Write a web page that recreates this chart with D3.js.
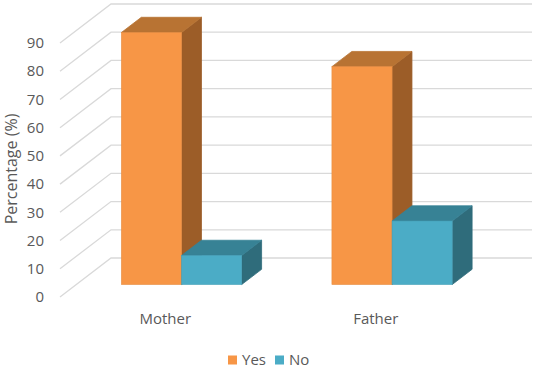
<!DOCTYPE html>
<html>
<head>
<meta charset="utf-8">
<script src="https://cdn.jsdelivr.net/npm/d3@7/dist/d3.min.js"></script>
<style>
  html, body { margin: 0; padding: 0; background: #fff; }
  svg { display: block; font-family: "Open Sans", sans-serif; }
</style>
</head>
<body>
<svg id="chart" width="536" height="368"></svg>
<script>
const categories = ["Mother", "Father"];
const seriesNames = ["Yes", "No"];
const yesValues = [89.3, 77.2];
const noValues = [10.3, 22.5];
const yTicks = [0, 10, 20, 30, 40, 50, 60, 70, 80, 90];
const yTitle = "Percentage (%)";

const colors = {
  Yes: { front: "#F79646", top: "#B87333", side: "#9C5D28" },
  No:  { front: "#4BACC6", top: "#378295", side: "#2F6C7B" }
};

const svg = d3.select("#chart");

// oblique projection of floor depth
const depthDX = 51, depthDY = -39;
const barD0 = 0.32, barD1 = 0.71;

const y = d3.scaleLinear().domain([0, 90]).range([297, 43]);
const x0 = d3.scaleBand().domain(categories).range([60, 481]).padding(0);
const x1 = d3.scaleBand().domain(seriesNames).range([0, x0.bandwidth()])
  .paddingInner(0).paddingOuter(0.75);

const gridColor = "#D9D9D9";
const textColor = "#595959";

// gridlines: floor diagonal + back wall horizontal
const grid = svg.append("g");
yTicks.forEach(t => {
  const fy = y(t);
  const bx = 60 + depthDX, by = fy + depthDY;
  grid.append("path")
    .attr("d", `M60,${fy}L${bx},${by}L${481 + depthDX},${by}`)
    .attr("fill", "none").attr("stroke", gridColor).attr("stroke-width", 1.3);
});

// y tick labels
svg.append("g").selectAll("text").data(yTicks).join("text")
  .attr("x", 44).attr("y", d => y(d)).attr("dy", "0.35em")
  .attr("text-anchor", "end").attr("fill", textColor)
  .attr("font-size", 15).text(d => d);

// y axis title
svg.append("text")
  .attr("transform", `translate(17,${(y(0)+y(90))/2 - 1}) rotate(-90)`)
  .attr("text-anchor", "middle").attr("fill", textColor)
  .attr("font-size", 16).text(yTitle);

// bars
const data = [];
categories.forEach((c, i) => {
  data.push({ cat: c, s: "Yes", v: yesValues[i] });
  data.push({ cat: c, s: "No", v: noValues[i] });
});

const bars = svg.append("g");
data.forEach(d => {
  const xl = x0(d.cat) + x1(d.s) + barD0 * depthDX;
  const xr = xl + x1.bandwidth();
  const yb = y(0) + barD0 * depthDY;
  const yt = y(d.v) + barD0 * depthDY;
  const ddx = (barD1 - barD0) * depthDX, ddy = (barD1 - barD0) * depthDY;
  const col = colors[d.s];
  bars.append("path")
    .attr("d", `M${xr},${yt}L${xr+ddx},${yt+ddy}L${xr+ddx},${yb+ddy}L${xr},${yb}Z`)
    .attr("fill", col.side).attr("stroke", col.side).attr("stroke-width", 0.8);
  bars.append("path")
    .attr("d", `M${xl},${yt}L${xl+ddx},${yt+ddy}L${xr+ddx},${yt+ddy}L${xr},${yt}Z`)
    .attr("fill", col.top).attr("stroke", col.top).attr("stroke-width", 0.8);
  bars.append("rect")
    .attr("x", xl).attr("y", yt).attr("width", xr - xl).attr("height", yb - yt)
    .attr("fill", col.front).attr("stroke", d3.color(col.front).darker(0.2)).attr("stroke-width", 0.6);
});

// category labels
svg.append("g").selectAll("text").data(categories).join("text")
  .attr("x", d => x0(d) + x0.bandwidth() / 2).attr("y", 319).attr("dy", "0.35em")
  .attr("text-anchor", "middle").attr("fill", textColor)
  .attr("font-size", 15).text(d => d);

// legend
const legend = svg.append("g");
const legendItems = [{ s: "Yes", x: 228 }, { s: "No", x: 275 }];
legendItems.forEach(it => {
  legend.append("rect").attr("x", it.x).attr("y", 355.5).attr("width", 9).attr("height", 9)
    .attr("fill", colors[it.s].front);
  legend.append("text").attr("x", it.x + 14).attr("y", 360).attr("dy", "0.35em")
    .attr("fill", textColor).attr("font-size", 15).text(it.s);
});
</script>
</body>
</html>
